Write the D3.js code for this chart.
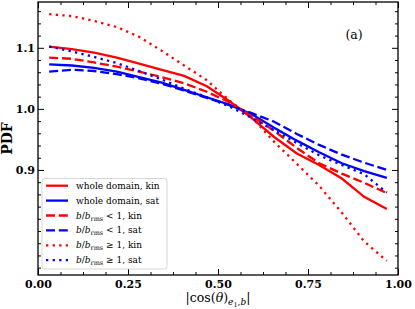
<!DOCTYPE html>
<html>
<head>
<meta charset="utf-8">
<script src="https://cdn.jsdelivr.net/npm/d3@7"></script>
<style>
  body { margin: 0; background: #fff; }
  svg { display: block; }
</style>
</head>
<body>
<svg id="chart"></svg>
<script>
// bin centres of |cos(theta)|
var binCentres = [0.031, 0.094, 0.156, 0.219, 0.281, 0.344, 0.406, 0.469,
                  0.531, 0.594, 0.656, 0.719, 0.781, 0.844, 0.906, 0.969];

var wholeKin = [1.102, 1.098, 1.092, 1.084, 1.074, 1.064, 1.054, 1.037,
                1.013, 0.985, 0.954, 0.927, 0.908, 0.886, 0.856, 0.836];
var wholeSat = [1.073, 1.071, 1.067, 1.061, 1.052, 1.043, 1.031, 1.019,
                1.007, 0.991, 0.969, 0.948, 0.929, 0.911, 0.898, 0.887];
var lowKin   = [1.084, 1.082, 1.076, 1.069, 1.061, 1.052, 1.042, 1.028,
                1.011, 0.988, 0.964, 0.936, 0.911, 0.894, 0.879, 0.862];
var lowSat   = [1.061, 1.064, 1.062, 1.057, 1.050, 1.041, 1.030, 1.018,
                1.006, 0.993, 0.979, 0.959, 0.941, 0.925, 0.912, 0.900];
var highKin  = [1.155, 1.152, 1.144, 1.134, 1.118, 1.095, 1.071, 1.047,
                1.014, 0.986, 0.946, 0.910, 0.874, 0.830, 0.783, 0.751];
var highSat  = [1.102, 1.094, 1.085, 1.075, 1.062, 1.048, 1.033, 1.019,
                1.004, 0.985, 0.965, 0.944, 0.924, 0.908, 0.893, 0.863];

var xMajor = [0, 0.25, 0.5, 0.75, 1.0];
var xMinor = [0.0625, 0.125, 0.1875, 0.3125, 0.375, 0.4375, 0.5625, 0.625, 0.6875, 0.8125, 0.875, 0.9375];
var yMajor = [0.9, 1.0, 1.1];
var yMinor = [0.74, 0.76, 0.78, 0.80, 0.82, 0.84, 0.86, 0.88, 0.92, 0.94, 0.96, 0.98,
              1.02, 1.04, 1.06, 1.08, 1.12, 1.14, 1.16];

var series = [
    { label: 'whole', tail: 'kin', values: wholeKin, color: '#ff0000', style: 'solid' },
    { label: 'whole', tail: 'sat', values: wholeSat, color: '#0000ff', style: 'solid' },
    { label: 'low',   tail: 'kin', values: lowKin,   color: '#ff0000', style: 'dashed' },
    { label: 'low',   tail: 'sat', values: lowSat,   color: '#0000ff', style: 'dashed' },
    { label: 'high',  tail: 'kin', values: highKin,  color: '#ff0000', style: 'dotted' },
    { label: 'high',  tail: 'sat', values: highSat,  color: '#0000ff', style: 'dotted' }
];

var dashes = { solid: null, dashed: '9,3.8', dotted: '2.3,4.3' };

function start() {
    var W = 415, H = 309;
    var L = 38, R = 398, T = 2, B = 275;

    var svg = d3.select('#chart').attr('width', W).attr('height', H);

    var x = d3.scaleLinear().domain([0, 1]).range([L, R]);
    var y = d3.scaleLinear().domain([0.728, 1.175]).range([B, T]);

    var serif = 'DejaVu Serif, serif';

    // axes, ticks pointing inward
    function addAxis(axis, tr, labels) {
        var g = svg.append('g').attr('transform', tr).call(axis);
        g.select('.domain').remove();
        g.selectAll('line').attr('stroke', '#000').attr('stroke-width', 1);
        if (!labels) g.selectAll('text').remove();
        return g;
    }

    var gx = addAxis(d3.axisBottom(x).tickValues(xMajor).tickSize(-6).tickPadding(6)
        .tickFormat(d3.format('.2f')), 'translate(0,' + B + ')', true);
    gx.selectAll('text').attr('font-family', serif).attr('font-weight', 'bold')
        .attr('font-size', 11).attr('fill', '#000').attr('dy', '0.72em').attr('y', 5);
    addAxis(d3.axisBottom(x).tickValues(xMinor).tickSize(-3), 'translate(0,' + B + ')', false);
    addAxis(d3.axisTop(x).tickValues(xMajor).tickSize(-6), 'translate(0,' + T + ')', false);
    addAxis(d3.axisTop(x).tickValues(xMinor).tickSize(-3), 'translate(0,' + T + ')', false);

    var gy = addAxis(d3.axisLeft(y).tickValues(yMajor).tickSize(-6).tickPadding(3)
        .tickFormat(d3.format('.1f')), 'translate(' + L + ',0)', true);
    gy.selectAll('text').attr('font-family', serif).attr('font-weight', 'bold')
        .attr('font-size', 11).attr('fill', '#000').attr('x', -3);
    addAxis(d3.axisLeft(y).tickValues(yMinor).tickSize(-3), 'translate(' + L + ',0)', false);
    addAxis(d3.axisRight(y).tickValues(yMajor).tickSize(-6), 'translate(' + R + ',0)', false);
    addAxis(d3.axisRight(y).tickValues(yMinor).tickSize(-3), 'translate(' + R + ',0)', false);

    // curves
    var line = d3.line()
        .x(function (d, i) { return x(binCentres[i]); })
        .y(function (d) { return y(d); });

    svg.append('g').selectAll('path')
        .data(series)
        .enter().append('path')
        .attr('d', function (d) { return line(d.values); })
        .attr('fill', 'none')
        .attr('stroke', function (d) { return d.color; })
        .attr('stroke-width', 2.3)
        .attr('stroke-dasharray', function (d) { return dashes[d.style]; });

    // frame
    svg.append('rect')
        .attr('x', L).attr('y', T)
        .attr('width', R - L).attr('height', B - T)
        .attr('fill', 'none').attr('stroke', '#000').attr('stroke-width', 1.3);

    // axis titles
    svg.append('text')
        .attr('transform', 'translate(12,' + ((T + B) / 2) + ') rotate(-90)')
        .attr('text-anchor', 'middle')
        .attr('font-family', serif).attr('font-weight', 'bold').attr('font-size', 14)
        .text('PDF');

    var xt = svg.append('text')
        .attr('x', x(0.5)).attr('y', 302)
        .attr('text-anchor', 'middle')
        .attr('font-family', serif).attr('font-size', 12.5);
    xt.append('tspan').text('|cos(');
    xt.append('tspan').attr('font-style', 'italic').text('θ');
    xt.append('tspan').text(')');
    xt.append('tspan').attr('font-style', 'italic').attr('font-size', 9).attr('dy', 3).text('e');
    xt.append('tspan').attr('font-size', 6.5).attr('dy', 1.5).text('1');
    xt.append('tspan').attr('font-size', 9).attr('dy', -1.5).text(',');
    xt.append('tspan').attr('font-style', 'italic').attr('font-size', 9).text('b');
    xt.append('tspan').attr('dy', -3).text('|');

    svg.append('text')
        .attr('x', 354).attr('y', 39)
        .attr('text-anchor', 'middle')
        .attr('font-family', serif).attr('font-size', 12.5)
        .text('(a)');

    // legend
    var lg = svg.append('g');
    lg.append('rect')
        .attr('x', 42).attr('y', 178.5)
        .attr('width', 125).attr('height', 90.5)
        .attr('rx', 2.5)
        .attr('fill', '#fff').attr('fill-opacity', 0.8)
        .attr('stroke', '#cccccc').attr('stroke-width', 0.8);

    var rows = lg.selectAll('g.row')
        .data(series)
        .enter().append('g')
        .attr('class', 'row')
        .attr('transform', function (d, i) { return 'translate(0,' + (185.7 + i * 14.9) + ')'; });

    rows.append('line')
        .attr('x1', 46).attr('x2', 68)
        .attr('y1', 0).attr('y2', 0)
        .attr('stroke', function (d) { return d.color; })
        .attr('stroke-width', 2.3)
        .attr('stroke-dasharray', function (d) { return dashes[d.style]; });

    rows.each(function (d) {
        var t = d3.select(this).append('text')
            .attr('x', 76).attr('y', 3)
            .attr('font-family', serif).attr('font-size', 9);
        if (d.label === 'whole') {
            t.append('tspan').text('whole domain, ' + d.tail);
        } else {
            t.append('tspan').attr('font-style', 'italic').text('b');
            t.append('tspan').text('/');
            t.append('tspan').attr('font-style', 'italic').text('b');
            t.append('tspan').attr('font-size', 6.5).attr('dy', 2).text('rms');
            t.append('tspan').attr('dy', -2).text(d.label === 'low' ? ' < 1, ' + d.tail : ' ≥ 1, ' + d.tail);
        }
    });
}

start();
</script>
</body>
</html>
